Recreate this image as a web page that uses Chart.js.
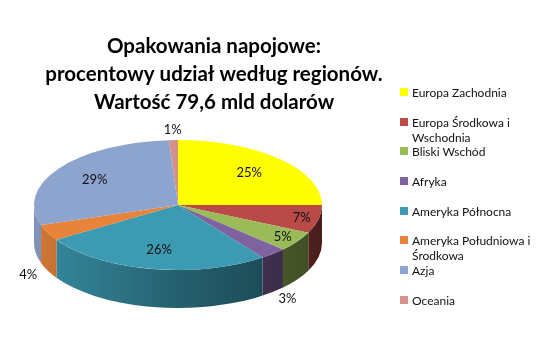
<!DOCTYPE html>
<html>
<head>
<meta charset="utf-8">
<script src="https://cdn.jsdelivr.net/npm/chart.js@4"></script>
<style>
  body { margin: 0; background: #fff; }
  #wrap { position: relative; width: 554px; height: 354px; }
  #legend { position: absolute; left: 400px; top: 85px; font-family: Lato, sans-serif; font-size: 12px; color: #111; }
  #legend .item { position: relative; height: 29.7px; line-height: 15px; padding-left: 12px; width: 125px; }
  #legend .box { position: absolute; left: 0; top: 3px; width: 8px; height: 8px; }
</style>
</head>
<body>
<div id="wrap">
  <canvas id="chart" width="554" height="354"></canvas>
  <div id="legend"></div>
</div>
<script>
const regions = ['Europa Zachodnia', 'Europa Środkowa i Wschodnia', 'Bliski Wschód', 'Afryka',
  'Ameryka Północna', 'Ameryka Południowa i Środkowa', 'Azja', 'Oceania'];
const shares = [25, 7, 5, 3, 26, 4, 29, 1];
const colors = ['#ffff00', '#b94a47', '#9bbb59', '#7f62a0', '#3c9bb3', '#e8843a', '#8da4cf', '#d4928f'];
const titleLines = ['Opakowania napojowe:', 'procentowy udział według regionów.', 'Wartość 79,6 mld dolarów'];

// 3D look: where the tilted pie sits on the page
const view = { cx: 178, cy: 205, rx: 144, ry: 65, depth: 38 };

function shade(hex, k) {
  const n = parseInt(hex.slice(1), 16);
  const r = Math.round(((n >> 16) & 255) * k), g = Math.round(((n >> 8) & 255) * k), b = Math.round((n & 255) * k);
  return `rgb(${r},${g},${b})`;
}

const pie3d = {
  id: 'pie3d',
  beforeDatasetsDraw(chart) {
    const ctx = chart.ctx;
    const arcs = chart.getDatasetMeta(0).data;
    const { cx, cy, rx, ry, depth } = view;
    // side walls (front half only)
    arcs.forEach((arc, i) => {
      const s = Math.max(arc.startAngle, 0), e = Math.min(arc.endAngle, Math.PI);
      if (s >= e) return;
      const g = ctx.createLinearGradient(cx - rx, 0, cx + rx, 0);
      g.addColorStop(0, shade(colors[i], 0.9));
      g.addColorStop(0.5, shade(colors[i], 0.62));
      g.addColorStop(1, shade(colors[i], 0.4));
      ctx.save();
      ctx.beginPath();
      ctx.ellipse(cx, cy, rx, ry, 0, s, e, false);
      ctx.lineTo(cx + rx * Math.cos(e), cy + depth + ry * Math.sin(e));
      ctx.ellipse(cx, cy + depth, rx, ry, 0, e, s, true);
      ctx.closePath();
      ctx.fillStyle = g;
      ctx.fill();
      ctx.restore();
    });
    // squash the library's circle into the top face
    const a = arcs[0];
    const r = a.outerRadius;
    ctx.save();
    ctx.translate(cx, cy);
    ctx.scale(rx / r, ry / r);
    ctx.translate(-a.x, -a.y);
  },
  afterDatasetsDraw(chart) {
    const ctx = chart.ctx;
    ctx.restore();
    const { cx, cy, rx, ry, depth } = view;
    const total = shares.reduce((p, v) => p + v, 0);
    ctx.save();
    ctx.font = '13px Lato, sans-serif';
    ctx.fillStyle = '#111';
    ctx.textAlign = 'center';
    ctx.textBaseline = 'middle';
    chart.getDatasetMeta(0).data.forEach((arc, i) => {
      const v = shares[i];
      const m = (arc.startAngle + arc.endAngle) / 2;
      const outside = v < 5;
      const f = outside ? 1.15 : (v >= 10 ? 0.7 : 0.88);
      let x = cx + rx * f * Math.cos(m);
      let y = cy + ry * f * Math.sin(m);
      if (outside && Math.sin(m) > 0) y += depth;
      ctx.fillText(Math.round(v / total * 100) + '%', x, y);
    });
    ctx.restore();
  }
};

const chart = new Chart(document.getElementById('chart'), {
  type: 'pie',
  data: {
    labels: regions,
    datasets: [{
      data: shares,
      backgroundColor: colors,
      borderWidth: 0
    }]
  },
  options: {
    responsive: false,
    animation: false,
    layout: { padding: { right: 126 } },
    plugins: {
      legend: { display: false },
      tooltip: { enabled: false },
      title: {
        display: true,
        text: titleLines,
        color: '#000',
        font: { family: 'Lato', size: 20.5, weight: 'bold', lineHeight: 1.37 },
        padding: { top: 32, bottom: 10 }
      }
    }
  },
  plugins: [pie3d]
});

// legend built from the same arrays
const legend = document.getElementById('legend');
legend.innerHTML = regions.map((name, i) =>
  `<div class="item"><span class="box" style="background:${colors[i]}"></span>${name}</div>`
).join('');
</script>
</body>
</html>
